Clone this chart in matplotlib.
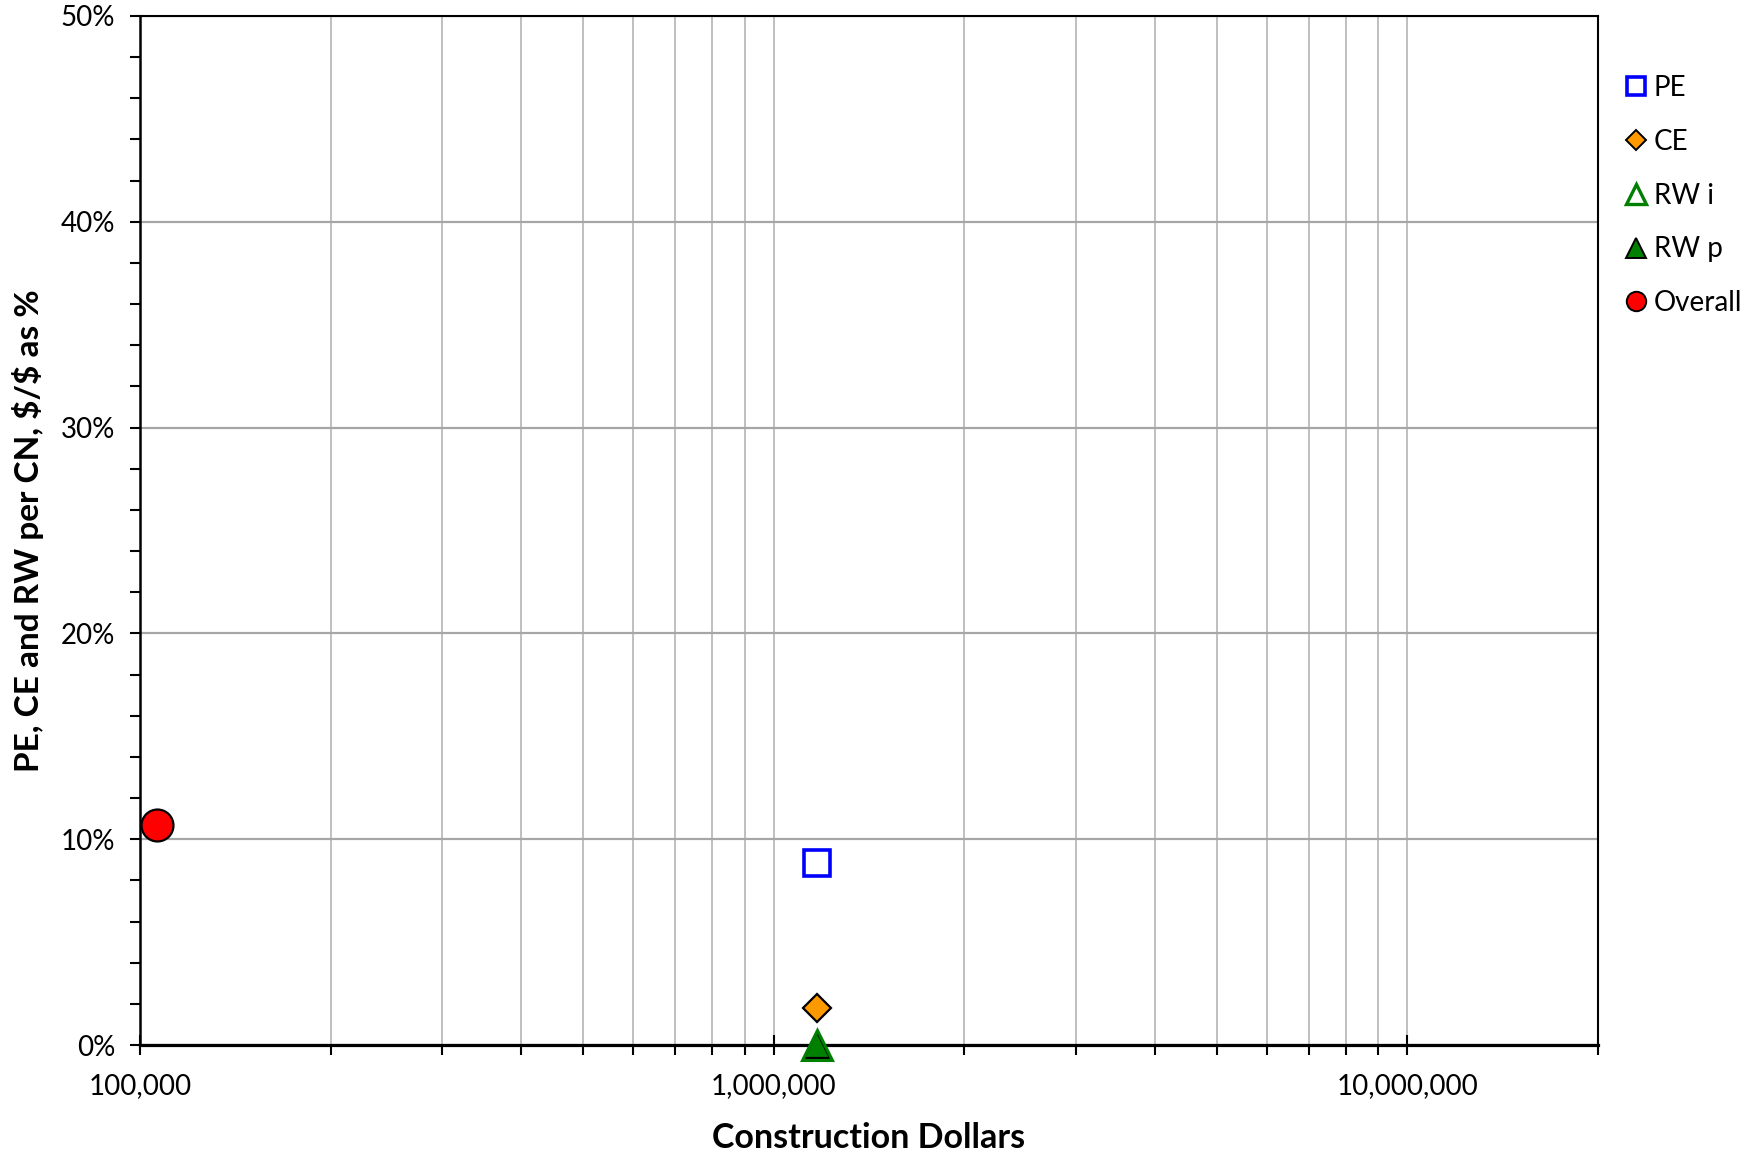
import matplotlib
matplotlib.use("Agg")
import matplotlib.pyplot as plt
from matplotlib.ticker import FixedLocator, FuncFormatter, MultipleLocator, NullFormatter
from matplotlib.lines import Line2D

# ---- data ----
series_names = ["PE", "CE", "RW i", "RW p", "Overall"]
construction_dollars = [1170000, 1170000, 1170000, 1170000, 106500]
pct_values = [8.85, 1.8, 0.0, 0.0, 10.7]
x_major_ticks = [100000, 1000000, 10000000]
x_tick_labels = ["100,000", "1,000,000", "10,000,000"]
y_major_ticks = [0, 10, 20, 30, 40, 50]

plt.rcParams['font.family'] = ['Lato', 'DejaVu Sans']

fig = plt.figure(figsize=(17.6, 11.55), dpi=100)
ax = fig.add_axes([140/1760, 1 - 1045/1155, (1598-140)/1760, (1045-16)/1155])

ax.set_xscale('log')
ax.set_xlim(1e5, 2e7)
ax.set_ylim(0, 50)

# grid
ax.xaxis.set_major_locator(FixedLocator(x_major_ticks))
minor = [m * 10**k for k in range(5, 8) for m in range(2, 10) if m * 10**k <= 2e7]
ax.xaxis.set_minor_locator(FixedLocator(minor))
ax.xaxis.set_major_formatter(FuncFormatter(lambda v, p: x_tick_labels[x_major_ticks.index(int(round(v)))] if int(round(v)) in x_major_ticks else ""))
ax.xaxis.set_minor_formatter(NullFormatter())
ax.yaxis.set_major_locator(FixedLocator(y_major_ticks))
ax.yaxis.set_minor_locator(MultipleLocator(2))
ax.yaxis.set_major_formatter(FuncFormatter(lambda v, p: f"{v:.0f}%"))

ax.grid(True, axis='x', which='both', color='#bfbfbf', linewidth=1.4)
ax.grid(True, axis='y', which='major', color='#a6a6a6', linewidth=1.6)
ax.set_axisbelow(True)

for side, lw in [('left', 1.8), ('right', 1.5), ('top', 1.5), ('bottom', 2.3)]:
    ax.spines[side].set_linewidth(lw)
    ax.spines[side].set_color('black')

ax.tick_params(axis='y', which='major', direction='out', length=7, width=1.5, labelsize=20, pad=11)
ax.tick_params(axis='y', which='minor', direction='out', length=7, width=1.5)
ax.tick_params(axis='x', which='major', direction='inout', length=14, width=1.5, labelsize=20, pad=13)
ax.tick_params(axis='x', which='minor', direction='out', length=7, width=1.5)

styles = {
    "PE": dict(marker='s', ms=19, mfc='white', mec='#0000ff', mew=2.6),
    "CE": dict(marker='D', ms=14, mfc='#ff9900', mec='black', mew=1.6),
    "RW i": dict(marker='^', ms=21, mfc='none', mec='#008000', mew=2.2),
    "RW p": dict(marker='^', ms=19, mfc='#008000', mec='black', mew=1.6),
    "Overall": dict(marker='o', ms=23, mfc='#ff0000', mec='black', mew=1.6),
}
order = ["PE", "CE", "RW p", "RW i", "Overall"]
for name in order:
    i = series_names.index(name)
    ax.plot([construction_dollars[i]], [pct_values[i]], linestyle='none',
            clip_on=False, zorder=5, **styles[name])

legend_styles = {
    "PE": dict(marker='s', ms=13, mfc='white', mec='#0000ff', mew=2.6),
    "CE": dict(marker='D', ms=10, mfc='#ff9900', mec='black', mew=1.4),
    "RW i": dict(marker='^', ms=14, mfc='none', mec='#008000', mew=2.4),
    "RW p": dict(marker='^', ms=14, mfc='#008000', mec='black', mew=1.4),
    "Overall": dict(marker='o', ms=14, mfc='#ff0000', mec='black', mew=1.4),
}
handles = [Line2D([], [], linestyle='none', **legend_styles[n]) for n in series_names]
fig.legend(handles, series_names, loc='upper left', bbox_to_anchor=(1626/1760, 1 - 75/1155),
           frameon=False, fontsize=20, handlelength=0.7, handletextpad=0.3,
           labelspacing=1.0, borderaxespad=0, borderpad=0, numpoints=1)

ax.set_xlabel("Construction Dollars", fontsize=24.5, fontweight='bold', labelpad=17)
ax.set_ylabel(r"PE, CE and RW per CN, \$/\$ as %", fontsize=24, fontweight='bold', labelpad=12)

fig.savefig("out.png", dpi=100)
